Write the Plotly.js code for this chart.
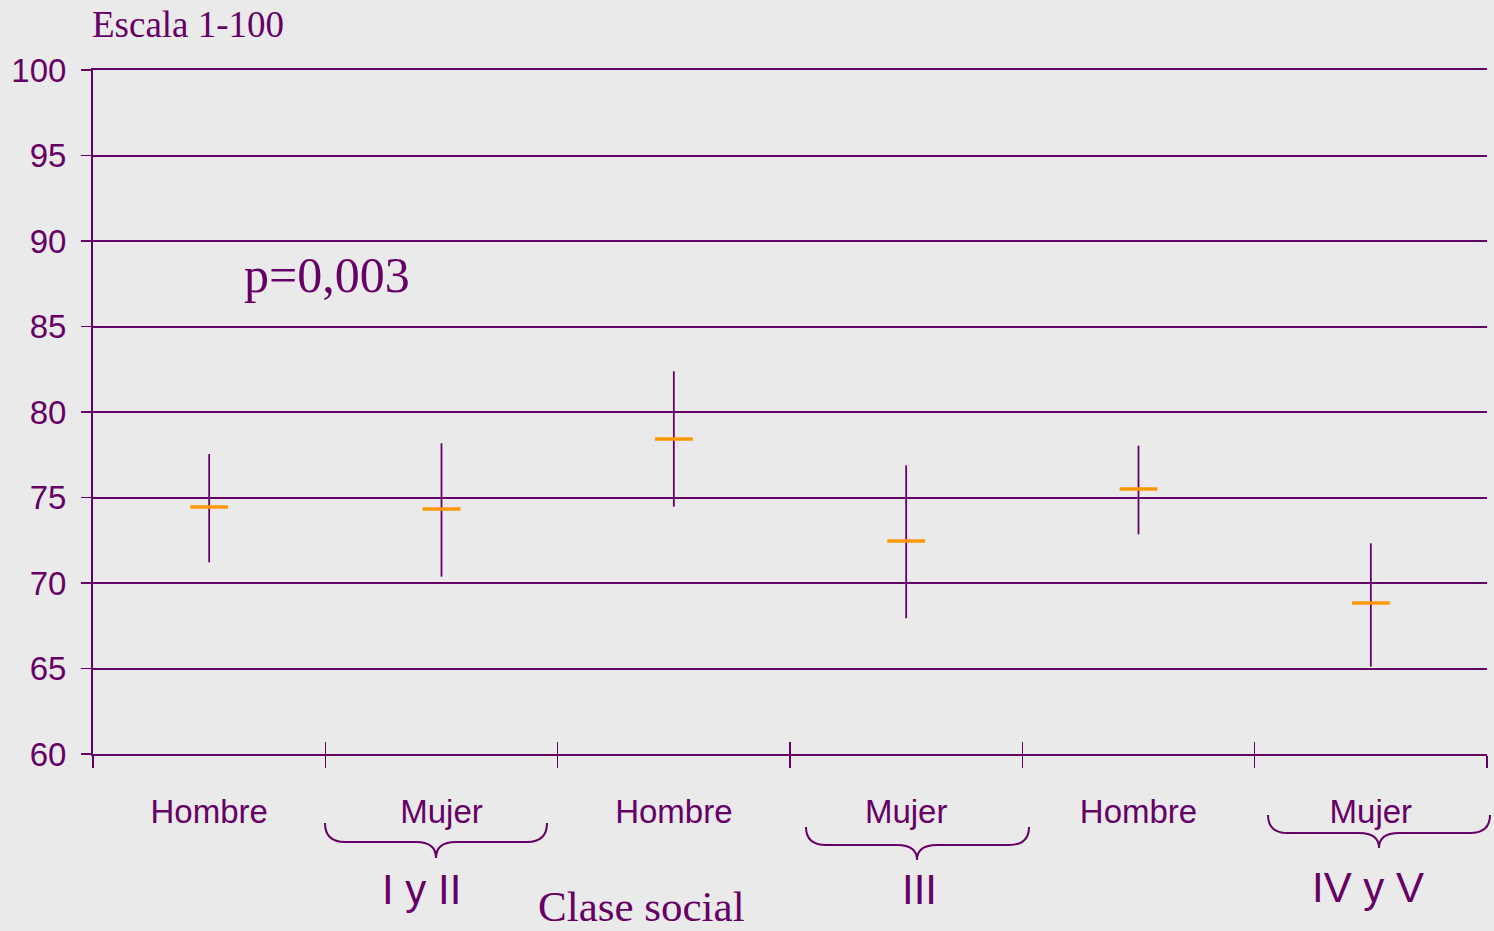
<!DOCTYPE html>
<html>
<head>
<meta charset="utf-8">
<script src="https://cdn.plot.ly/plotly-3.0.1.min.js"></script>
<style>html,body{margin:0;padding:0;background:#EAEAEA;}#chart{width:1494px;height:931px;}</style>
</head>
<body>
<div id="chart"></div>
<script>
const categories = ["Hombre", "Mujer ", "Hombre  ", "Mujer   ", "Hombre    ", "Mujer     "];
const tickLabels = ["Hombre", "Mujer", "Hombre", "Mujer", "Hombre", "Mujer"];
const meanValues = [74.44, 74.33, 78.42, 72.46, 75.5, 68.83];
const upperValues = [77.54, 78.17, 82.38, 76.88, 78.03, 72.32];
const lowerValues = [71.21, 70.37, 74.46, 67.94, 72.85, 65.11];
const groupLabels = ["I y II", "III", "IV y V"];
const yTicks = [60, 65, 70, 75, 80, 85, 90, 95, 100];

const PURPLE = "#660066";
const ORANGE = "#FF9900";
const BG = "#EAEAEA";
const L = 93, R = 1487, T = 70, B = 754;
const px = x => (x - L) / (R - L);
const py = y => (B - y) / (B - T);

const errPlus = upperValues.map((u, i) => u - meanValues[i]);
const errMinus = lowerValues.map((l, i) => meanValues[i] - l);

const main = {
  type: "scatter", mode: "markers",
  x: categories, y: meanValues,
  marker: {symbol: "line-ew", size: 27, color: ORANGE, line: {color: ORANGE, width: 3.5}},
  error_y: {type: "data", symmetric: false, array: errPlus, arrayminus: errMinus,
            color: PURPLE, thickness: 1.8, width: 0},
  hoverinfo: "y", cliponaxis: false
};
const ghost = {
  type: "scatter", mode: "markers", x: categories, y: meanValues,
  xaxis: "x2", marker: {opacity: 0}, hoverinfo: "skip", showlegend: false
};

function brace(x0, x1, xm, yTop, yLine, yTip) {
  const r = 20;
  const P = (x, y) => px(x).toFixed(5) + "," + py(y).toFixed(5);
  return "M" + P(x0, yTop) +
    " Q" + P(x0, yLine) + " " + P(x0 + r, yLine) +
    " L" + P(xm - r, yLine) +
    " Q" + P(xm, yLine) + " " + P(xm, yTip) +
    " Q" + P(xm, yLine) + " " + P(xm + r, yLine) +
    " L" + P(x1 - r, yLine) +
    " Q" + P(x1, yLine) + " " + P(x1, yTop);
}
const braceDefs = [
  [325, 547, 436, 823, 842, 858],
  [806, 1029, 917, 827, 845, 860],
  [1268, 1490, 1379, 815, 833, 848]
];
const shapes = braceDefs.map(b => ({
  type: "path", xref: "paper", yref: "paper", path: brace(...b),
  line: {color: PURPLE, width: 2}
}));

const groupPos = [[421, 889], [919, 889], [1368, 887]];
const annotations = [
  {text: "Escala 1-100", x: px(90), y: py(25), xanchor: "left", yanchor: "middle",
   font: {family: "Liberation Serif", size: 37, color: PURPLE}},
  {text: "p=0,003", x: px(242), y: py(275), xanchor: "left", yanchor: "middle",
   font: {family: "Liberation Serif", size: 50, color: PURPLE}},
  {text: "Clase social", x: px(641), y: py(906), xanchor: "center", yanchor: "middle",
   font: {family: "Liberation Serif", size: 43, color: PURPLE}}
].concat(groupLabels.map((g, i) => ({
  text: g, x: px(groupPos[i][0]), y: py(groupPos[i][1]), xanchor: "center", yanchor: "middle",
  font: {family: "Liberation Sans", size: 42, color: PURPLE}
}))).map(a => Object.assign({xref: "paper", yref: "paper", showarrow: false}, a));

const layout = {
  width: 1494, height: 931,
  paper_bgcolor: BG, plot_bgcolor: BG,
  margin: {l: L, r: 1494 - R, t: T, b: 931 - B, pad: 0},
  showlegend: false,
  xaxis: {
    type: "category", range: [-0.5, 5.5], tickvals: categories, ticktext: tickLabels,
    tickson: "boundaries", ticks: "outside", ticklen: 12, tickwidth: 1.5, tickcolor: PURPLE,
    showline: true, mirror: true, linecolor: PURPLE, linewidth: 2, showgrid: false, zeroline: false,
    tickfont: {family: "Liberation Sans", size: 33, color: PURPLE}, ticklabelstandoff: 27,
    fixedrange: true
  },
  xaxis2: {
    type: "category", range: [-0.5, 5.5], overlaying: "x", anchor: "y", side: "bottom",
    tickvals: categories, tickson: "boundaries", ticks: "inside", ticklen: 12, tickwidth: 1.5,
    tickcolor: PURPLE, showticklabels: false, showline: false, showgrid: false, zeroline: false
  },
  yaxis: {
    range: [60, 100], tickvals: yTicks, ticks: "outside", ticklen: 10, tickwidth: 1.5,
    tickcolor: PURPLE, showline: true, linecolor: PURPLE, linewidth: 2,
    showgrid: true, gridcolor: PURPLE, gridwidth: 2, zeroline: false,
    tickfont: {family: "Liberation Sans", size: 33, color: PURPLE}, ticklabelstandoff: 8,
    fixedrange: true
  },
  shapes: shapes,
  annotations: annotations
};

Plotly.newPlot("chart", [main, ghost], layout, {displayModeBar: false, staticPlot: true});
</script>
</body>
</html>
